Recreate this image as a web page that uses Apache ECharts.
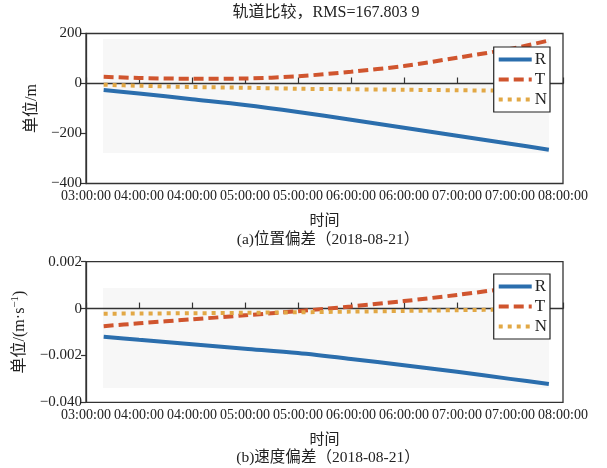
<!DOCTYPE html>
<html>
<head>
<meta charset="utf-8">
<script src="https://cdn.jsdelivr.net/npm/echarts@6/dist/echarts.min.js"></script>
<style>html,body{margin:0;padding:0;background:#fff}#c{width:607px;height:468px}</style>
</head>
<body>
<div id="c"></div>
<script>
// time in minutes after 03:00:00
const timeMin = [10, 30, 60, 90, 120, 150, 180, 210, 240, 262];
const seriesNames = ['R', 'T', 'N'];
// position deviation (m)
const posR = [-26, -40, -63, -86, -114, -145, -177, -209, -241, -265];
const posT = [27, 22, 19, 20, 29, 47, 70, 103, 138, 172];
const posN = [-5, -9, -14, -17, -21, -23, -25, -27, -29, -32];
// velocity deviation (m/s)
const velR = [-0.00120, -0.00133, -0.00152, -0.00171, -0.00190, -0.00215, -0.00242, -0.00270, -0.00300, -0.00322];
const velT = [-0.00075, -0.00063, -0.00046, -0.00029, -0.00011, 0.00009, 0.00032, 0.00058, 0.00087, 0.00105];
const velN = [-0.00022, -0.00021, -0.00020, -0.00018, -0.00016, -0.00013, -0.00010, -0.00007, -0.00004, -0.00002];
// tick labels
const xTickLabels = ['03:00:00','04:00:00','04:00:00','05:00:00','05:00:00','06:00:00','06:00:00','07:00:00','07:00:00','08:00:00'];
const posTickValues = [200, 0, -200, -400];
const posTickLabels = ['200', '0', '\u2212200', '\u2212400'];
const velTickValues = [0.002, 0, -0.002, -0.004];
const velTickLabels = ['0.002', '0', '\u22120.002', '\u22120.040'];
const titleText = '轨道比较，RMS=167.803 9';
const captionA = '(a)位置偏差（2018-08-21）';
const captionB = '(b)速度偏差（2018-08-21）';

const FONT = '"Liberation Serif", "Noto Sans CJK SC", serif';
const colors = ['#2b6ead', '#d0552e', '#e2a845'];
const lineTypes = ['solid', [10, 5], [4, 5]];
const textColor = '#222';
const axisColor = '#333';

function pickLabel(values, labels, v) {
  for (let i = 0; i < values.length; i++) if (Math.abs(values[i] - v) < 1e-9) return labels[i];
  return '';
}

function makeX(gridIndex) {
  return {
    type: 'value', gridIndex, min: 0, max: 270, interval: 30,
    name: '时间', nameLocation: 'middle', nameGap: 30,
    nameTextStyle: {fontFamily: FONT, fontSize: 15, color: textColor},
    axisLine: {lineStyle: {color: axisColor, width: 1.3}},
    axisTick: {inside: true, length: 6, lineStyle: {color: axisColor, width: 1.2}},
    axisLabel: {interval: 0, margin: 6, fontFamily: FONT, fontSize: 14, color: textColor,
      showMinLabel: true, showMaxLabel: true, hideOverlap: false,
      formatter: v => xTickLabels[Math.round(v / 30)] || ''},
    splitLine: {show: false}
  };
}
function makeY(gridIndex, min, max, interval, vals, labs, name, nameGap, rich) {
  return {
    type: 'value', gridIndex, min, max, interval,
    name, nameLocation: 'middle', nameGap, nameRotate: 90,
    nameTextStyle: {fontFamily: FONT, fontSize: 16, color: textColor, rich: rich || {}},
    axisLine: {lineStyle: {color: axisColor, width: 1.3}},
    axisTick: {inside: false, length: 5, lineStyle: {color: axisColor, width: 1.2}},
    axisLabel: {margin: 4, fontFamily: FONT, fontSize: 15, color: textColor,
      formatter: v => pickLabel(vals, labs, v)},
    splitLine: {show: false}
  };
}
function makeSeries(name, idx, data, axisIndex) {
  return {
    type: 'line', name, xAxisIndex: axisIndex, yAxisIndex: axisIndex,
    data: timeMin.map((t, i) => [t, data[i]]),
    smooth: 0.3, showSymbol: false,
    lineStyle: {color: colors[idx], width: 4, type: lineTypes[idx], cap: 'butt'},
    itemStyle: {color: colors[idx]},
    z: 3
  };
}
function makeLegend(top) {
  return {
    data: seriesNames, orient: 'vertical', right: 57, top,
    itemWidth: 33, itemHeight: 14, itemGap: 3,
    padding: [4, 3, 4, 3],
    backgroundColor: '#fff', borderColor: '#222', borderWidth: 1.2, borderRadius: 0,
    itemStyle: {opacity: 0, borderWidth: 0},
    lineStyle: {width: 4},
    textStyle: {fontFamily: FONT, fontSize: 17, color: textColor, padding: [0, 0, 0, -2]},
    selectedMode: false
  };
}

const chart = echarts.init(document.getElementById('c'), null, {renderer: 'canvas'});
chart.setOption({
  backgroundColor: '#fff',
  animation: false,
  textStyle: {fontFamily: FONT},
  grid: [
    {left: 86, right: 44, top: 33.5, height: 150, show: true, borderColor: axisColor, borderWidth: 1.3, backgroundColor: 'transparent'},
    {left: 86, right: 44, top: 261.7, height: 140.6, show: true, borderColor: axisColor, borderWidth: 1.3, backgroundColor: 'transparent'}
  ],
  xAxis: [makeX(0), makeX(1)],
  yAxis: [
    makeY(0, -400, 200, 200, posTickValues, posTickLabels, '单位/m', 46),
    makeY(1, -0.004, 0.002, 0.002, velTickValues, velTickLabels, '单位/(m·s{sup|\u22121})', 56,
      {sup: {fontFamily: FONT, fontSize: 11, color: textColor, padding: [0, 0, 9, 0]}})
  ],
  legend: [makeLegend(47), makeLegend(274)],
  series: [
    makeSeries('R', 0, posR, 0), makeSeries('T', 1, posT, 0), makeSeries('N', 2, posN, 0),
    makeSeries('R', 0, velR, 1), makeSeries('T', 1, velT, 1), makeSeries('N', 2, velN, 1)
  ],
  graphic: [
    {type: 'rect', z: -10, shape: {x: 103, y: 39, width: 446, height: 114}, style: {fill: '#f7f7f7'}},
    {type: 'rect', z: -10, shape: {x: 103, y: 288, width: 446, height: 100}, style: {fill: '#f7f7f7'}},
    {type: 'text', x: 326, y: 13, style: {text: titleText, font: '16px ' + FONT, fill: textColor, textAlign: 'center', textVerticalAlign: 'middle'}},
    {type: 'text', x: 328, y: 240, style: {text: captionA, font: '15.5px ' + FONT, fill: textColor, textAlign: 'center', textVerticalAlign: 'middle'}},
    {type: 'text', x: 328, y: 458, style: {text: captionB, font: '15.5px ' + FONT, fill: textColor, textAlign: 'center', textVerticalAlign: 'middle'}}
  ]
});
</script>
</body>
</html>
